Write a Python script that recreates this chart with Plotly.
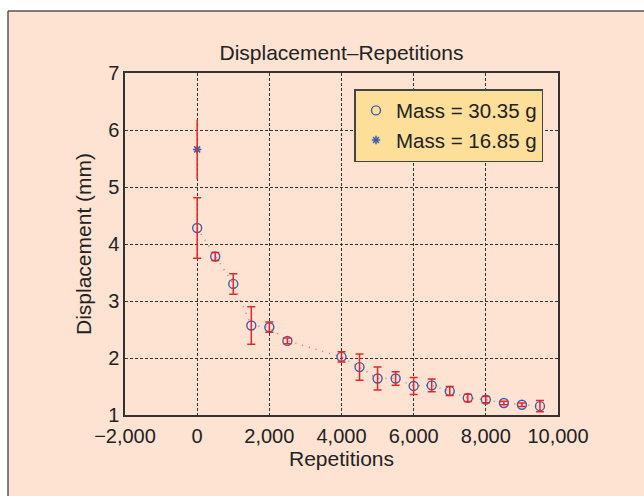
import plotly.graph_objects as go

# ---- data ----
reps = [0, 500, 1000, 1500, 2000, 2500, 4000, 4500, 5000, 5500,
        6000, 6500, 7000, 7500, 8000, 8500, 9000, 9500]
disp_3035 = [4.28, 3.78, 3.30, 2.57, 2.54, 2.30, 2.02, 1.84, 1.64, 1.64,
             1.51, 1.52, 1.42, 1.30, 1.27, 1.21, 1.18, 1.155]
err_3035 = [0.53, 0.07, 0.18, 0.33, 0.09, 0.05, 0.09, 0.23, 0.20, 0.12,
            0.15, 0.11, 0.08, 0.065, 0.055, 0.03, 0.03, 0.10]
reps_1685 = [0]
disp_1685 = [5.66]
err_1685 = [0.52]

x_tickvals = [-2000, 0, 2000, 4000, 6000, 8000, 10000]
x_ticktext = ["\u22122,000", "0", "2,000", "4,000", "6,000", "8,000", "10,000"]
y_tickvals = [1, 2, 3, 4, 5, 6, 7]

blue = "#3F5CAA"
red = "#E8262A"
font = "Liberation Sans, Arial, Helvetica, sans-serif"
txt = "#222222"

fig = go.Figure()

# dotted connecting line
fig.add_trace(go.Scatter(x=reps, y=disp_3035, mode="lines",
                         line=dict(color="rgba(232,80,70,0.8)", width=1.5, dash="1px,6px"),
                         showlegend=False, hoverinfo="skip"))
# markers
fig.add_trace(go.Scatter(x=reps, y=disp_3035, mode="markers", name="Mass = 30.35 g",
                         marker=dict(symbol="circle-open", size=9, color=blue,
                                     line=dict(width=1.4, color=blue))))
fig.add_trace(go.Scatter(x=reps_1685, y=disp_1685, mode="markers", name="Mass = 16.85 g",
                         marker=dict(symbol="asterisk-open", size=7, color=blue,
                                     line=dict(width=1.5, color=blue))))
# error bars on top
fig.add_trace(go.Scatter(x=reps, y=disp_3035, mode="markers", showlegend=False,
                         marker=dict(size=1, color="rgba(0,0,0,0)"),
                         error_y=dict(type="data", array=err_3035, visible=True,
                                      color=red, thickness=1.5, width=4),
                         hoverinfo="skip"))
fig.add_trace(go.Scatter(x=reps_1685, y=disp_1685, mode="markers", showlegend=False,
                         marker=dict(size=1, color="rgba(0,0,0,0)"),
                         error_y=dict(type="data", array=err_1685, visible=True,
                                      color=red, thickness=1.5, width=0),
                         hoverinfo="skip"))

# background box with top/left border
fig.add_shape(type="rect", xref="paper", yref="paper", x0=-0.2702, x1=1.25, y0=-0.3, y1=1.1813,
              fillcolor="#FEE3D2", line=dict(width=0), layer="below")
fig.add_shape(type="line", xref="paper", yref="paper", x0=-0.2702, x1=1.25, y0=1.1813, y1=1.1813,
              line=dict(color="#555555", width=1.5), layer="below")
fig.add_shape(type="line", xref="paper", yref="paper", x0=-0.2702, x1=-0.2702, y0=-0.3, y1=1.1813,
              line=dict(color="#555555", width=1.5), layer="below")

fig.update_layout(
    width=644, height=496,
    margin=dict(l=125, r=86, t=73, b=81),
    paper_bgcolor="white",
    plot_bgcolor="#E5DFB2",
    font=dict(family=font, size=20, color=txt),
    title=dict(text="Displacement\u2013Repetitions", x=0.5, xref="paper", xanchor="center",
               y=1 - 53 / 496, yref="container", yanchor="middle",
               font=dict(size=21, family=font, color=txt)),
    showlegend=True,
    legend=dict(x=0.53, y=0.953, xanchor="left", yanchor="top",
                bgcolor="#FEDF9A", bordercolor="#444444", borderwidth=1.5,
                font=dict(size=20.5, family=font, color=txt),
                itemwidth=30, tracegroupgap=0),
)
fig.update_xaxes(range=[-2000, 10000], tickvals=x_tickvals, ticktext=x_ticktext,
                 tickfont=dict(size=20, family=font, color=txt), ticklabelstandoff=2,
                 showgrid=True, gridcolor="#333333", griddash="3px,2px", gridwidth=1,
                 showline=True, linecolor="#333333", linewidth=1.5, mirror=True,
                 ticks="", zeroline=False,
                 title=dict(text="Repetitions", font=dict(size=21, family=font, color=txt), standoff=1))
fig.update_yaxes(range=[1, 7], tickvals=y_tickvals,
                 tickfont=dict(size=20, family=font, color=txt),
                 showgrid=True, gridcolor="#333333", griddash="3px,2px", gridwidth=1,
                 showline=True, linecolor="#333333", linewidth=1.5, mirror=True,
                 ticks="", zeroline=False,
                 title=dict(text="Displacement (mm)", font=dict(size=21, family=font, color=txt), standoff=11))

fig.write_html("out.html")
